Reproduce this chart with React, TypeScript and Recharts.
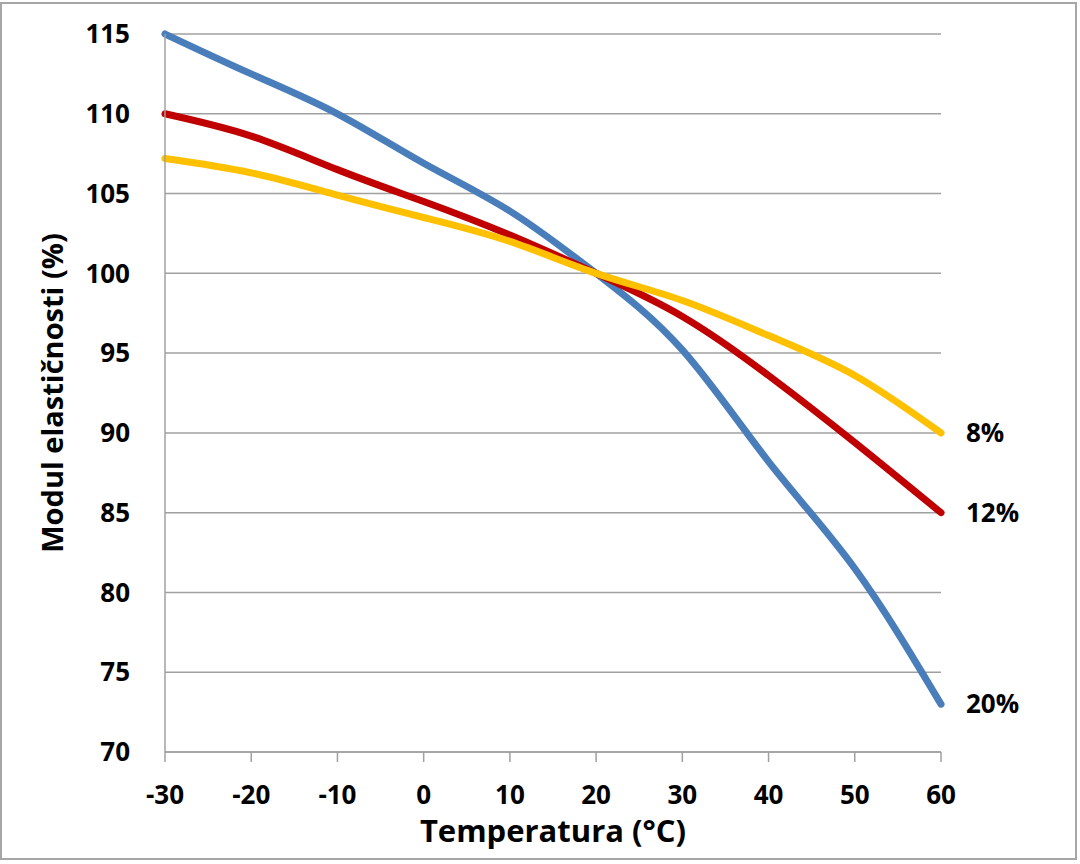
import { LineChart, Line, XAxis, YAxis, CartesianGrid } from 'recharts';

const temperatures = [-30, -20, -10, 0, 10, 20, 30, 40, 50, 60];
const moisture20 = [115, 112.5, 110, 106.9, 103.9, 100, 95.2, 88.2, 81.5, 73];
const moisture12 = [110, 108.6, 106.5, 104.5, 102.4, 100, 97.3, 93.6, 89.4, 85];
const moisture8 = [107.2, 106.3, 104.9, 103.5, 102, 100, 98.3, 96.1, 93.6, 90];
const seriesNames = ['20%', '12%', '8%'];
const seriesColors = ['#4a7ebb', '#c00000', '#ffc000'];
const xTicks = [-30, -20, -10, 0, 10, 20, 30, 40, 50, 60];
const yTicks = [70, 75, 80, 85, 90, 95, 100, 105, 110, 115];

const FONT = '"Open Sans", Calibri, sans-serif';
const GRID = '#a0a0a0';
const PLOT_TOP = 34;
const PLOT_BOTTOM = 752;

const data = temperatures.map((t, i) => ({
  t,
  s20: moisture20[i],
  s12: moisture12[i],
  s8: moisture8[i],
}));

const keys = ['s20', 's12', 's8'];

// label only the last point of each line, to the right of the plot
const endLabel = (name: string) => (props: any) => {
  const { x, y, index } = props;
  if (index !== temperatures.length - 1) return <g />;
  return (
    <text
      x={x + 25}
      y={y}
      dy="0.36em"
      fontFamily={FONT}
      fontWeight={700}
      fontSize={26}
      fill="#000"
    >
      {name}
    </text>
  );
};

export default function App() {
  return (
    <div style={{ position: 'absolute', left: 0, top: 0, width: 1080, height: 864, background: '#fff' }}>
      <div
        style={{
          position: 'absolute',
          left: 0,
          top: 2,
          width: 1077,
          height: 858,
          boxSizing: 'border-box',
          border: '2px solid #a6a6a6',
        }}
      />
      <div style={{ position: 'absolute', left: 0, top: 0 }}>
        <LineChart
          width={1080}
          height={864}
          data={data}
          margin={{ top: PLOT_TOP, right: 139, bottom: 0, left: 0 }}
        >
          <CartesianGrid horizontal vertical={false} stroke={GRID} strokeWidth={1.5} />
          <XAxis
            dataKey="t"
            type="number"
            domain={[-30, 60]}
            ticks={xTicks}
            interval={0}
            stroke={GRID}
            strokeWidth={1.5}
            tickSize={10}
            tickMargin={24}
            tick={{ fill: '#000', fontFamily: FONT, fontWeight: 700, fontSize: 26 }}
            height={864 - PLOT_BOTTOM}
            label={(p: any) => {
              const vb = p.viewBox;
              return (
                <text
                  x={vb.x + vb.width / 2}
                  y={PLOT_BOTTOM + 90}
                  textAnchor="middle"
                  fontFamily={FONT}
                  fontWeight={700}
                  fontSize={31}
                  fill="#000"
                >
                  Temperatura (°C)
                </text>
              );
            }}
          />
          <YAxis
            type="number"
            domain={[70, 115]}
            ticks={yTicks}
            interval={0}
            width={165}
            stroke={GRID}
            strokeWidth={1.5}
            tickLine={false}
            tickSize={0}
            tickMargin={35}
            tick={{ fill: '#000', fontFamily: FONT, fontWeight: 700, fontSize: 26 }}
            label={() => {
              const cx = 63;
              const cy = (PLOT_TOP + PLOT_BOTTOM) / 2;
              return (
                <text
                  x={cx}
                  y={cy}
                  transform={`rotate(-90 ${cx} ${cy})`}
                  textAnchor="middle"
                  fontFamily={FONT}
                  fontWeight={700}
                  fontSize={29}
                  fill="#000"
                >
                  Modul elastičnosti (%)
                </text>
              );
            }}
          />
          {keys.map((k, i) => (
            <Line
              key={k}
              dataKey={k}
              name={seriesNames[i]}
              type="natural"
              stroke={seriesColors[i]}
              strokeWidth={7}
              strokeLinecap="round"
              dot={false}
              activeDot={false}
              isAnimationActive={false}
              label={endLabel(seriesNames[i])}
            />
          ))}
        </LineChart>
      </div>
    </div>
  );
}
